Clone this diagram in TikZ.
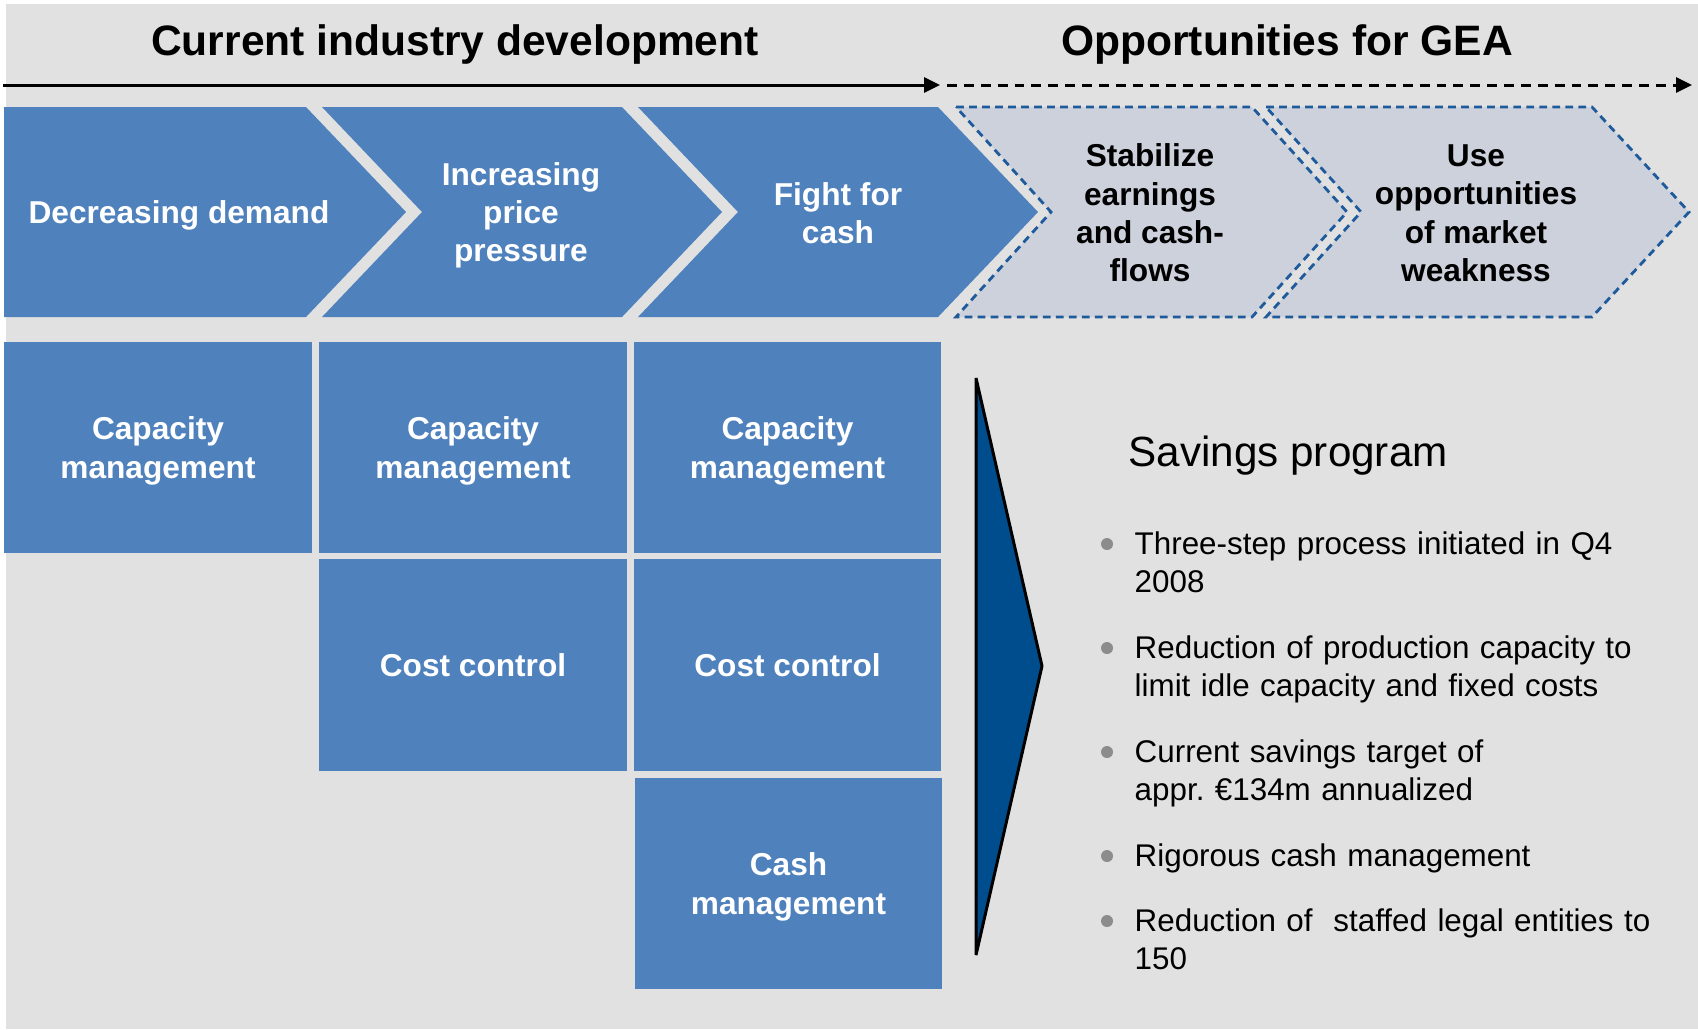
\documentclass[tikz,border=0pt]{standalone}
\usepackage{fontspec}
\setmainfont{Liberation Sans}
\usepackage{tikz}
\usepackage{xcolor}
\usetikzlibrary{arrows.meta}
\definecolor{bggray}{RGB}{225,225,225}
\definecolor{gblue}{RGB}{79,129,189}
\definecolor{gdark}{RGB}{0,77,141}
\definecolor{gpale}{RGB}{204,209,220}
\definecolor{gdash}{RGB}{31,91,155}
\definecolor{gdot}{RGB}{140,140,140}

\begin{document}
\begin{tikzpicture}[x=0.01cm, y=-0.01cm,
  headline/.style={font=\bfseries\fontsize{12.1}{14}\selectfont, text=black, text depth=0pt},
  timeline/.style={black, line width=0.85pt, -{Triangle[length=0.16cm, width=0.15cm]}},
  stage/.style={fill=gblue},
  plan/.style={fill=gpale, draw=gdash, line width=0.8pt, dash pattern=on 2.2pt off 1.5pt},
  stagetxt/.style={font=\bfseries\fontsize{9}{10.9}\selectfont, align=center, inner sep=0, text depth=0pt},
  cell/.style={fill=gblue, text=white, font=\bfseries\fontsize{9}{10.9}\selectfont, align=center,
    minimum width=3.07cm, minimum height=2.11cm, inner sep=0, text depth=0pt},
  bullettxt/.style={font=\fontsize{8.92}{10.95}\selectfont, align=left, text width=5.4cm, inner sep=0, anchor=base west}]
\useasboundingbox (0,0) rectangle (1698,1029);
\fill[white] (0,0) rectangle (1698,1029);
\fill[bggray] (6,4) rectangle (1698,1029);
\node[headline] (curdev) at (455,40) {Current industry development};
\node[headline] (oppgea) at (1287,40) {Opportunities for GEA};
\coordinate (lstart) at (3,85);
\coordinate (lmid) at (940,85);
\coordinate (ldash) at (947,85);
\coordinate (lend) at (1692,85);
\draw[timeline] (lstart) -- (lmid);
\draw[timeline, dash pattern=on 2.8pt off 2pt] (ldash) -- (lend);
\fill[stage] (4,107) -- (306,107) -- (406,212) -- (306,317) -- (4,317) -- cycle;
\fill[stage] (322,107) -- (622,107) -- (722,212) -- (622,317) -- (322,317) -- (422,212) -- cycle;
\fill[stage] (638,107) -- (938,107) -- (1038,212) -- (938,317) -- (638,317) -- (738,212) -- cycle;
\filldraw[plan] (956,107) -- (1252,107) -- (1347,212) -- (1252,317) -- (956,317) -- (1051,212) -- cycle;
\filldraw[plan] (1266,107) -- (1592,107) -- (1689,212) -- (1592,317) -- (1266,317) -- (1361,212) -- cycle;
\node[stagetxt, text=white] (demand) at (179,212) {Decreasing demand};
\node[stagetxt, text=white] (price) at (521,212) {Increasing\\price\\pressure};
\node[stagetxt, text=white] (fight) at (838,213) {Fight for\\cash};
\node[stagetxt, text=black] (stabil) at (1150,213) {Stabilize\\earnings\\and cash-\\flows};
\node[stagetxt, text=black] (useopp) at (1476,213) {Use\\opportunities\\of market\\weakness};
\node[cell] (cap1) at (158,447.5) {Capacity\\management};
\node[cell] (cap2) at (473,447.5) {Capacity\\management};
\node[cell] (cap3) at (787.5,447.5) {Capacity\\management};
\node[cell] (cost2) at (473,665) {Cost control};
\node[cell] (cost3) at (787.5,665) {Cost control};
\node[cell] (cashm) at (788.5,883.5) {Cash\\management};
\filldraw[fill=gdark, draw=black, line width=0.85pt, line join=bevel] (976,378) -- (1042,666) -- (976,955) -- cycle;
\node[anchor=base west, inner sep=0, font=\fontsize{12}{14}\selectfont] (savings) at (1128,466) {Savings program};
\node[bullettxt] (b1) at (1134,554) {Three-step process initiated in Q4\\2008};
\node[bullettxt] (b2) at (1134,658) {Reduction of production capacity to\\limit idle capacity and fixed costs};
\node[bullettxt] (b3) at (1134,762) {Current savings target of\\appr.\ €134m annualized};
\node[bullettxt] (b4) at (1134,866) {Rigorous cash management};
\node[bullettxt] (b5) at (1134,931) {Reduction of\ \ staffed legal entities to\\150};
\fill[gdot] (1107,544) circle[radius=6];
\fill[gdot] (1107,648) circle[radius=6];
\fill[gdot] (1107,752) circle[radius=6];
\fill[gdot] (1107,856) circle[radius=6];
\fill[gdot] (1107,921) circle[radius=6];
\end{tikzpicture}
\end{document}
